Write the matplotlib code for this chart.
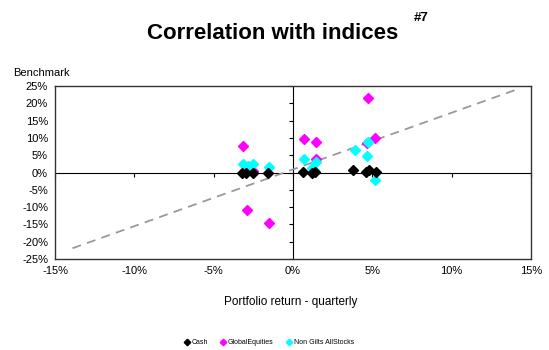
import matplotlib
matplotlib.use("Agg")
import matplotlib.pyplot as plt
from matplotlib.ticker import FuncFormatter

plt.rcParams["font.family"] = ["Liberation Sans", "DejaVu Sans"]

# quarterly portfolio return (%) vs benchmark return (%)
cash_x = [-3.2, -2.95, -2.5, -1.55, 0.65, 1.2, 1.4, 3.8, 4.6, 4.8, 5.2]
cash_y = [0.0, 0.0, 0.0, 0.0, 0.1, 0.0, 0.1, 0.7, 0.2, 0.6, 0.2]

eq_x = [-3.13, -2.9, -1.53, -2.5, 4.75, 0.69, 1.45, 5.17, 4.64, 1.45]
eq_y = [7.7, -10.8, -14.6, 0.4, 21.7, 9.8, 8.8, 9.9, 8.6, 3.9]

gilt_x = [-3.13, -2.85, -2.5, -1.53, 0.69, 3.9, 4.66, 4.75, 5.17, 1.45, 1.18, 1.3]
gilt_y = [2.4, 1.8, 2.4, 1.7, 3.8, 6.5, 4.9, 8.7, -2.2, 3.0, 1.2, 0.8]

# trend line
trend_x = [-13.9, 14.1]
trend_slope = 1.64
trend_icpt = 0.9

fig = plt.figure(figsize=(5.49, 3.5), dpi=100)
ax = fig.add_axes([0.1002, 0.26, 0.867, 0.494])

ax.plot(cash_x, cash_y, "D", color="black", ms=5.5, label="Cash", zorder=4)
ax.plot(eq_x, eq_y, "D", color="#FF00FF", ms=5.5, label="GlobalEquities", zorder=3)
ax.plot(gilt_x, gilt_y, "D", color="#00FFFF", ms=5.5, label="Non Gilts AllStocks", zorder=3)
ax.plot(trend_x, [trend_icpt + trend_slope * v for v in trend_x], "--",
        color="#999999", lw=1.3, dashes=(5, 3.5), zorder=2)

ax.set_xlim(-15, 15)
ax.set_ylim(-25, 25)
ax.set_xticks(range(-15, 16, 5))
ax.set_yticks(range(-25, 26, 5))
pct = FuncFormatter(lambda v, p: f"{v:.0f}%")
ax.xaxis.set_major_formatter(pct)
ax.yaxis.set_major_formatter(pct)
ax.tick_params(length=0, labelsize=8, pad=5)
for s in ax.spines.values():
    s.set_color("#333333")
    s.set_linewidth(1)

# axes crossing at zero, with tick marks
sx = ax.secondary_xaxis(0.5)
sx.xaxis.set_ticks_position("bottom")
sx.set_xticks(range(-15, 16, 5))
sx.set_xticklabels([])
sx.tick_params(length=3, width=0.8, direction="out")
sx.spines["bottom"].set_linewidth(1.2)
sy = ax.secondary_yaxis(0.5)
sy.yaxis.set_ticks_position("left")
sy.set_yticks(range(-25, 26, 5))
sy.set_yticklabels([])
sy.tick_params(length=3, width=0.8, direction="out")
sy.spines["left"].set_linewidth(1.2)

fig.text(0.497, 0.904, "Correlation with indices", ha="center", va="center",
         fontsize=16, fontweight="bold")
fig.text(0.753, 0.948, "#7", ha="left", va="center", fontsize=9.5, fontweight="bold")
fig.text(0.024, 0.79, "Benchmark", ha="left", va="center", fontsize=8)
fig.text(0.53, 0.138, "Portfolio return - quarterly", ha="center", va="center", fontsize=8.5)

fig.legend(loc="center", bbox_to_anchor=(0.49, 0.02), ncol=3, frameon=False,
           fontsize=5, markerscale=0.6, handlelength=0.8, handletextpad=0.3,
           columnspacing=1.8)

fig.savefig("out.png", dpi=100)
